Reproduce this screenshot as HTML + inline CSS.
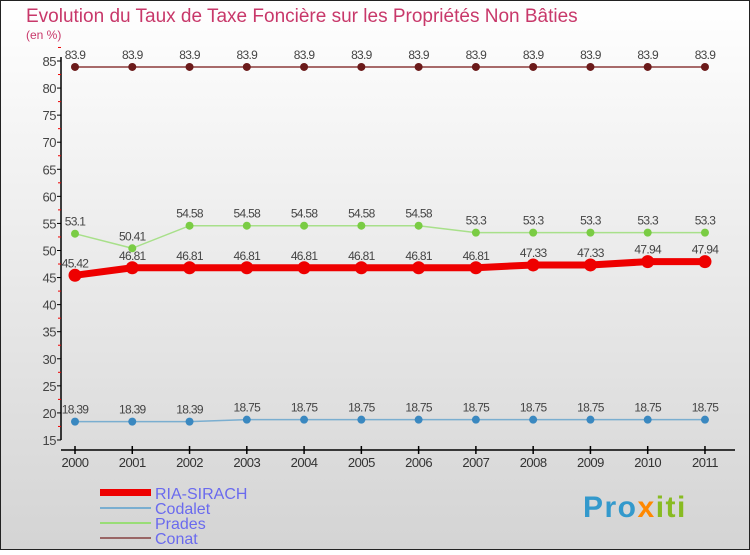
<!DOCTYPE html>
<html><head><meta charset="utf-8"><style>
body{margin:0;width:750px;height:550px;overflow:hidden;font-family:"Liberation Sans",sans-serif}
</style></head><body>
<svg width="750" height="550" viewBox="0 0 750 550" xmlns="http://www.w3.org/2000/svg">
<defs><linearGradient id="bg" x1="0" y1="0" x2="0" y2="1"><stop offset="0" stop-color="#ffffff"/><stop offset="1" stop-color="#d4d4d4"/></linearGradient></defs>
<rect x="0.5" y="0.5" width="749" height="549" fill="url(#bg)" stroke="#222"/>
<text x="26" y="22" font-size="19" fill="#c8386a">Evolution du Taux de Taxe Foncière sur les Propriétés Non Bâties</text>
<text x="26" y="39" font-size="12" fill="#c8386a">(en %)</text>
<g id="axes"></g>
<g id="series"></g>
<g>
<rect x="100" y="489" width="51" height="7" fill="#e00"/>
<text x="155" y="499" font-size="16" fill="#6a6aee">RIA-SIRACH</text>
<rect x="100" y="507" width="51" height="2" fill="#7aaed0"/>
<text x="155" y="514" font-size="16" fill="#6a6aee">Codalet</text>
<rect x="100" y="522" width="51" height="2" fill="#99dd77"/>
<text x="155" y="529" font-size="16" fill="#6a6aee">Prades</text>
<rect x="100" y="537" width="51" height="2" fill="#996666"/>
<text x="155" y="544" font-size="16" fill="#6a6aee">Conat</text>
</g>
<text x="583" y="517" font-size="30" font-weight="bold" letter-spacing="1.5"><tspan fill="#3399cc">Pro</tspan><tspan fill="#ff8800">x</tspan><tspan fill="#88bb22">iti</tspan></text>
</svg>
<script>
const years=["2000","2001","2002","2003","2004","2005","2006","2007","2008","2009","2010","2011"];
const yTicks=[15,20,25,30,35,40,45,50,55,60,65,70,75,80,85];
const riaSirach=[45.42,46.81,46.81,46.81,46.81,46.81,46.81,46.81,47.33,47.33,47.94,47.94];
const codalet=[18.39,18.39,18.39,18.75,18.75,18.75,18.75,18.75,18.75,18.75,18.75,18.75];
const prades=[53.1,50.41,54.58,54.58,54.58,54.58,54.58,53.3,53.3,53.3,53.3,53.3];
const conat=[83.9,83.9,83.9,83.9,83.9,83.9,83.9,83.9,83.9,83.9,83.9,83.9];
const NS="http://www.w3.org/2000/svg";
function X(i){return 75+i*57.27;}
function Y(v){return 61+(85-v)*5.414;}
function mk(tag,attrs,parent){const e=document.createElementNS(NS,tag);for(const k in attrs)e.setAttribute(k,attrs[k]);parent.appendChild(e);return e;}
const ax=document.getElementById('axes');
let yl=mk('line',{x1:61,y1:Y(85)-4,x2:61,y2:Y(15),stroke:'#000','stroke-width':1.5},ax);


yTicks.forEach(v=>{
 const t=mk('line',{x1:57,x2:61,y1:Y(v),y2:Y(v),stroke:'#000'},ax);
 
 
 const m=mk('line',{x1:58,x2:61,y1:Y(v+2.5),y2:Y(v+2.5),stroke:'#e00'},ax);
 
 
 const l=mk('text',{x:56,y:Y(v)+5,'text-anchor':'end','font-size':13,fill:'#444','letter-spacing':'-0.5'},ax);
 l.textContent=v;
 
 
});
let xl=mk('line',{x1:61,y1:450,x2:735,y2:450,stroke:'#000','stroke-width':1.5},ax);


years.forEach((y,i)=>{
 const t=mk('line',{x1:X(i),x2:X(i),y1:446,y2:454,stroke:'#000','stroke-width':1.5},ax);
 
 
 const l=mk('text',{x:X(i),y:467,'text-anchor':'middle','font-size':13,fill:'#333','letter-spacing':'-0.5'},ax);
 l.textContent=y;
 
 
});
const sg=document.getElementById('series');
function draw(name,data,color,w,r,dot){
 const g=mk('g',{},sg);
 
 
 const p=mk('polyline',{points:data.map((v,i)=>X(i)+','+Y(v)).join(' '),fill:'none',stroke:color,'stroke-width':w},g);
 
 
 data.forEach((v,i)=>{
  const c=mk('circle',{cx:X(i),cy:Y(v),r:r,fill:dot},g);
  
  
  const t=mk('text',{x:X(i),y:Y(v)-8,'text-anchor':'middle','font-size':12,fill:'#444','letter-spacing':'-0.7'},g);
  t.textContent=v;
  
  
 });
}
draw('conat',conat,'#8b3a3a',1.5,4,'#6b1a1a');
draw('prades',prades,'#a8e08a',1.5,4,'#7acc44');
draw('codalet',codalet,'#7aaed0',1.5,4,'#3a88c0');
draw('ria-sirach',riaSirach,'#ee0000',7,6.5,'#ee0000');
</script>
</body></html>
